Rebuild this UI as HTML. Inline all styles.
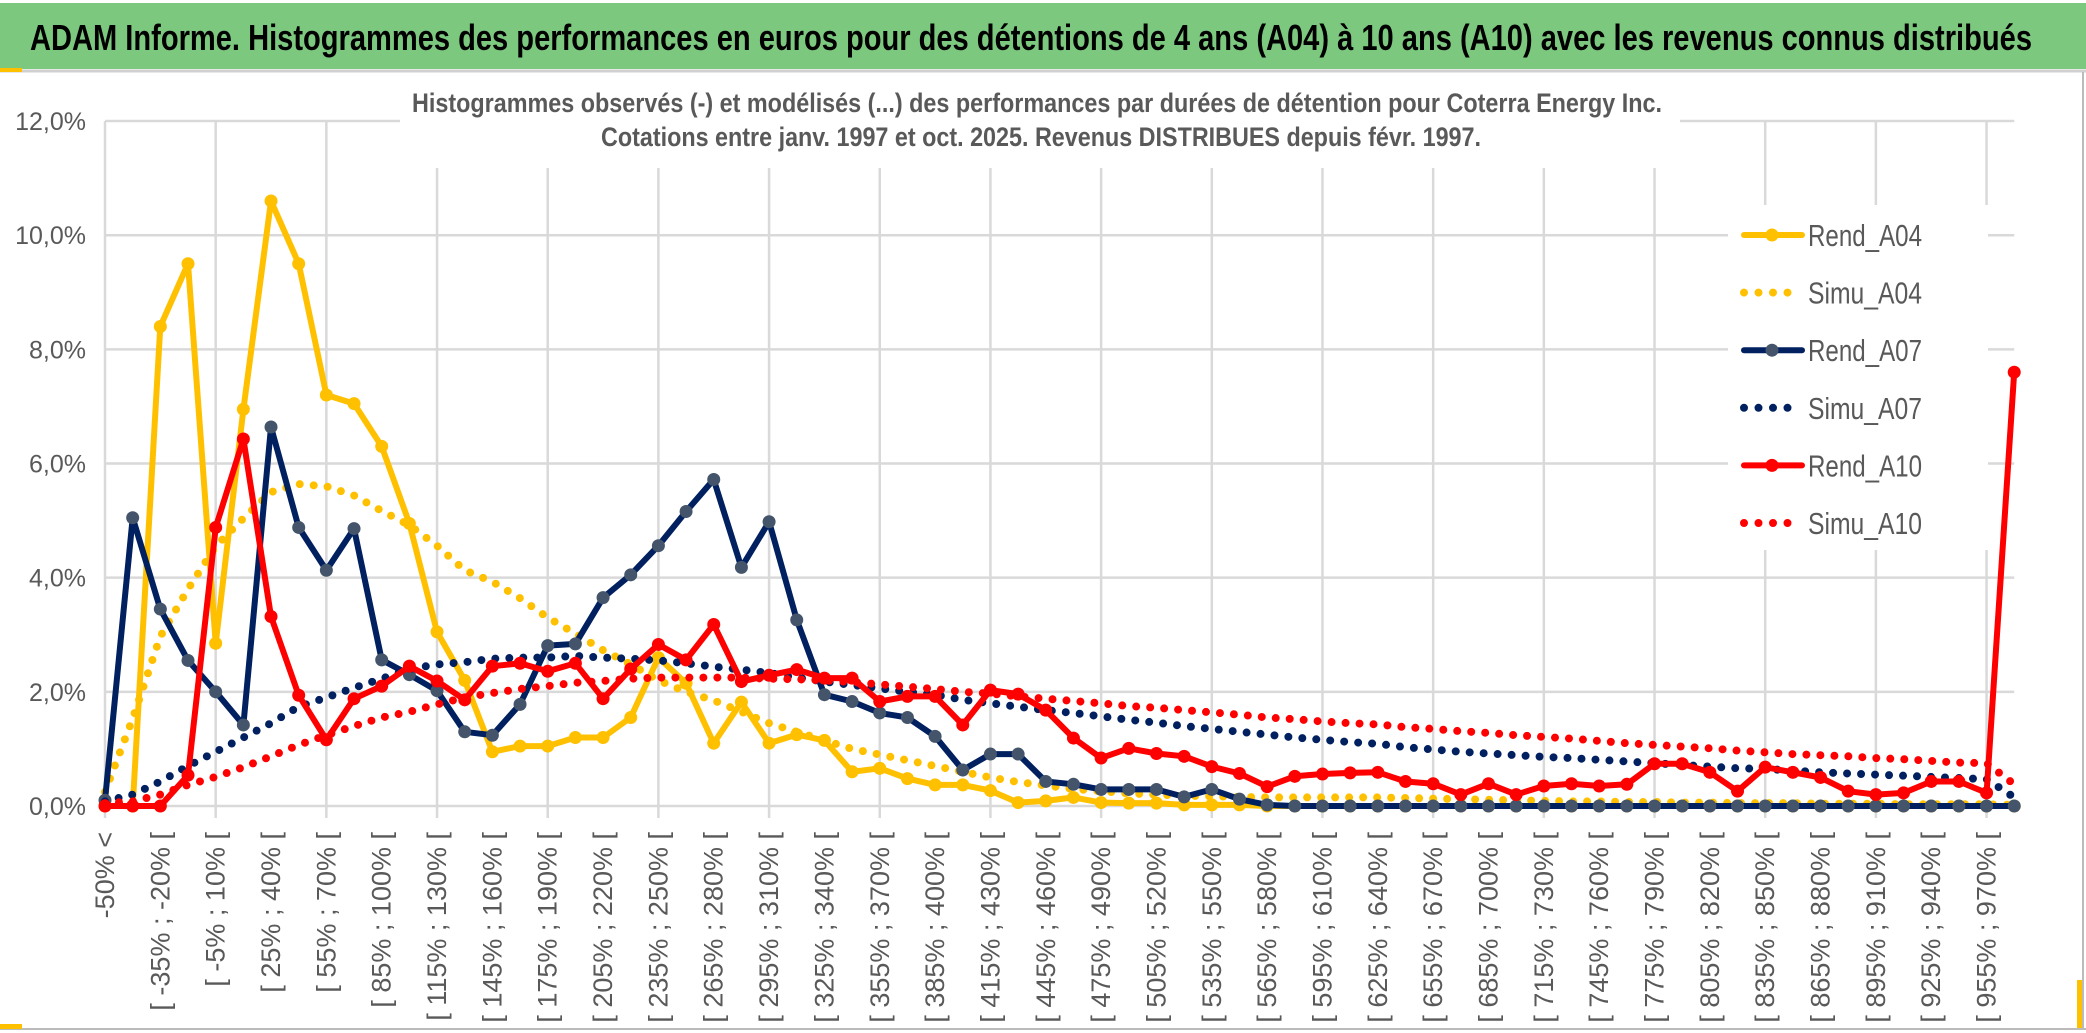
<!DOCTYPE html>
<html><head><meta charset="utf-8"><style>
html,body{margin:0;padding:0;background:#fff;}
svg{display:block;font-family:"Liberation Sans",sans-serif;}
</style></head><body>
<svg id="chart" width="2086" height="1033" viewBox="0 0 2086 1033" xmlns="http://www.w3.org/2000/svg">
<rect x="0" y="0" width="2086" height="1033" fill="#fff"/>
<rect x="0" y="3" width="2086" height="66" fill="#7dc87f"/>
<line x1="0" y1="71" x2="2086" y2="71" stroke="#d0d0d0" stroke-width="3"/>
<rect x="0" y="68" width="22" height="4" fill="#ffc000"/>
<text x="30" y="50" font-size="36" font-weight="bold" fill="#000" textLength="2002" lengthAdjust="spacingAndGlyphs">ADAM Informe. Histogrammes des performances en euros pour des détentions de 4 ans (A04) à 10 ans (A10) avec les revenus connus distribués</text>
<rect x="2082" y="72" width="2" height="958" fill="#bbb"/>
<rect x="0" y="1028" width="2086" height="2" fill="#bbb"/>
<rect x="0" y="1024" width="22" height="5" fill="#ffc000"/>
<rect x="2077" y="980" width="5" height="48" fill="#ffc000"/>
<g id="grid"></g>
<g id="yticks"></g>
<g id="xticks"></g>
<rect x="400" y="78" width="1280" height="90" fill="#fff"/>
<text x="1037" y="112" font-size="27" font-weight="bold" fill="#595959" text-anchor="middle" textLength="1250" lengthAdjust="spacingAndGlyphs">Histogrammes observés (-) et modélisés (...) des performances par durées de détention pour Coterra Energy Inc.</text>
<text x="1041" y="146" font-size="27" font-weight="bold" fill="#595959" text-anchor="middle" textLength="880" lengthAdjust="spacingAndGlyphs">Cotations entre janv. 1997 et oct. 2025. Revenus DISTRIBUES depuis févr. 1997.</text>
<g id="series"></g>
<g id="legend"></g>
</svg>
<script>
const categoryCount = 70;
const yTicks = [0, 2, 4, 6, 8, 10, 12];
const yTickLabels = ["0,0%","2,0%","4,0%","6,0%","8,0%","10,0%","12,0%"];
const rendA04 = [0,0,8.4,9.5,2.85,6.95,10.6,9.5,7.2,7.05,6.3,4.95,3.05,2.2,0.95,1.05,1.05,1.2,1.2,1.55,2.6,2.15,1.1,1.82,1.1,1.25,1.15,0.6,0.66,0.48,0.37,0.37,0.27,0.06,0.09,0.15,0.06,0.05,0.05,0.02,0.02,0.02,0,0,0,0,0,0,0,0,0,0,0,0,0,0,0,0,0,0,0,0,0,0,0,0,0,0,0,0];
const simuA04 = [0.25,1.53,2.97,3.8,4.55,5.04,5.5,5.64,5.6,5.44,5.17,4.92,4.56,4.13,3.93,3.64,3.3,3.02,2.73,2.48,2.2,2.0,1.85,1.65,1.45,1.3,1.15,1.0,0.9,0.8,0.7,0.6,0.5,0.42,0.36,0.3,0.26,0.22,0.2,0.18,0.17,0.16,0.15,0.15,0.15,0.15,0.15,0.14,0.13,0.12,0.11,0.1,0.09,0.08,0.08,0.07,0.07,0.06,0.06,0.05,0.05,0.05,0.04,0.04,0.04,0.03,0.03,0.03,0.03,0.02];
const rendA07 = [0.1,5.05,3.45,2.55,2.0,1.42,6.64,4.88,4.13,4.86,2.56,2.3,2.02,1.3,1.24,1.78,2.81,2.84,3.65,4.05,4.56,5.16,5.72,4.18,4.98,3.26,1.95,1.83,1.63,1.55,1.22,0.63,0.91,0.91,0.43,0.38,0.29,0.29,0.29,0.16,0.29,0.12,0.02,0,0,0,0,0,0,0,0,0,0,0,0,0,0,0,0,0,0,0,0,0,0,0,0,0,0,0];
const simuA07 = [0.08,0.2,0.43,0.7,0.95,1.2,1.45,1.74,1.9,2.07,2.23,2.4,2.48,2.52,2.58,2.6,2.6,2.63,2.6,2.58,2.55,2.5,2.44,2.39,2.33,2.25,2.18,2.12,2.06,2.0,1.95,1.86,1.8,1.74,1.68,1.63,1.57,1.51,1.46,1.4,1.35,1.3,1.25,1.2,1.16,1.12,1.09,1.03,0.99,0.95,0.92,0.89,0.86,0.84,0.81,0.78,0.75,0.72,0.69,0.66,0.65,0.62,0.59,0.57,0.55,0.53,0.51,0.49,0.47,0.15];
const rendA10 = [0,0,0,0.54,4.88,6.43,3.32,1.94,1.16,1.88,2.1,2.45,2.19,1.86,2.45,2.5,2.36,2.5,1.88,2.4,2.83,2.56,3.18,2.18,2.29,2.39,2.24,2.24,1.83,1.92,1.92,1.42,2.03,1.96,1.68,1.19,0.84,1.01,0.92,0.87,0.69,0.57,0.34,0.52,0.56,0.58,0.59,0.43,0.39,0.2,0.39,0.2,0.35,0.39,0.35,0.38,0.74,0.74,0.59,0.26,0.68,0.59,0.5,0.26,0.2,0.23,0.43,0.43,0.23,7.6];
const simuA10 = [0.05,0.08,0.2,0.37,0.51,0.68,0.87,1.07,1.24,1.4,1.55,1.65,1.78,1.9,1.98,2.05,2.1,2.16,2.19,2.23,2.25,2.25,2.25,2.25,2.23,2.22,2.2,2.17,2.13,2.09,2.05,2.0,1.97,1.92,1.88,1.84,1.8,1.75,1.72,1.68,1.64,1.6,1.55,1.52,1.48,1.45,1.43,1.38,1.35,1.31,1.28,1.24,1.21,1.18,1.14,1.1,1.07,1.04,1.01,0.97,0.94,0.91,0.89,0.87,0.84,0.82,0.79,0.76,0.75,0.38];
const seriesNames = ["Rend_A04","Simu_A04","Rend_A07","Simu_A07","Rend_A10","Simu_A10"];

const categories = [];
for (let k = 0; k < categoryCount; k++) {
  if (k === 0) categories.push("-50% <");
  else { const a = -50 + 15 * (k - 1); categories.push("[ " + a + "% ; " + (a + 15) + "% ["); }
}

const NS = "http://www.w3.org/2000/svg";
const X0 = 105, DX = 27.67, Y0 = 806, YPER = 57.08;
function xPos(i) { return X0 + DX * i; }
function yPos(v) { return Y0 - v * YPER; }
function mk(tag, attrs, parent) {
  const e = document.createElementNS(NS, tag);
  for (const k in attrs) e.setAttribute(k, attrs[k]);
  parent.appendChild(e); return e;
}
const grid = document.getElementById('grid');
const xEnd = xPos(categoryCount - 1);
yTicks.forEach((t, k) => {
  const l = mk('line', {x1: X0, x2: xEnd, y1: yPos(t), y2: yPos(t), stroke: '#d9d9d9', 'stroke-width': 2.5}, grid);
  
  
  const tx = mk('text', {x: 86, y: yPos(t) + 9, 'font-size': 25, fill: '#595959', 'text-anchor': 'end'}, document.getElementById('yticks'));
  
  
  tx.textContent = yTickLabels[k];
});
for (let i = 0; i < categoryCount; i += 4) {
  const l = mk('line', {x1: xPos(i), x2: xPos(i), y1: yPos(12), y2: Y0 + 12, stroke: '#d9d9d9', 'stroke-width': 2.5}, grid);
  
  
}
const xt = document.getElementById('xticks');
for (let i = 0; i < categoryCount; i += 2) {
  const x = xPos(i) + 9, y = 832;
  const t = mk('text', {x: x, y: y, 'font-size': 27, fill: '#595959', 'text-anchor': 'end', transform: 'rotate(-90 ' + x + ' ' + y + ')'}, xt);
  
  
  t.textContent = categories[i];
}
const series = document.getElementById('series');
function pts(arr) { return arr.map((v, i) => xPos(i).toFixed(1) + ',' + yPos(v).toFixed(1)).join(' '); }
function drawRend(arr, color, mcolor, name) {
  const g = mk('g', {}, series);
  
  
  mk('polyline', {points: pts(arr), fill: 'none', stroke: color, 'stroke-width': 6, 'stroke-linejoin': 'round'}, g);
  arr.forEach((v, i) => {
    const c = mk('circle', {cx: xPos(i), cy: yPos(v), r: 6.5, fill: mcolor}, g);
    
    
  });
}
function drawSimu(arr, color, name) {
  const p = mk('polyline', {points: pts(arr), fill: 'none', stroke: color, 'stroke-width': 8, 'stroke-linecap': 'round', 'stroke-dasharray': '0 14'}, series);
  
  
}
drawRend(rendA04, '#ffc000', '#ffc000', 'rend-a04-line');
drawSimu(simuA04, '#ffc000', 'simu-a04-line');
drawRend(rendA07, '#002060', '#44546a', 'rend-a07-line');
drawSimu(simuA07, '#002060', 'simu-a07-line');
drawRend(rendA10, '#ff0000', '#ff0000', 'rend-a10-line');
drawSimu(simuA10, '#ff0000', 'simu-a10-line');

const legend = document.getElementById('legend');
mk('rect', {x: 1728, y: 205, width: 260, height: 345, fill: '#fff'}, legend);
const legColors = ['#ffc000','#ffc000','#002060','#002060','#ff0000','#ff0000'];
const legMarker = ['#ffc000', null, '#44546a', null, '#ff0000', null];
seriesNames.forEach((n, k) => {
  const y = 235 + k * 57.6;
  const g = mk('g', {}, legend);
  
  
  if (legMarker[k]) {
    mk('line', {x1: 1744, x2: 1802, y1: y, y2: y, stroke: legColors[k], 'stroke-width': 6, 'stroke-linecap': 'round'}, g);
    mk('circle', {cx: 1772, cy: y, r: 6.5, fill: legMarker[k]}, g);
  } else {
    mk('line', {x1: 1744, x2: 1800, y1: y, y2: y, stroke: legColors[k], 'stroke-width': 8, 'stroke-linecap': 'round', 'stroke-dasharray': '0 14.5'}, g);
  }
  const t = mk('text', {x: 1808, y: y + 11, 'font-size': 31, fill: '#595959', textLength: 114, lengthAdjust: 'spacingAndGlyphs'}, g);
  t.textContent = n;
});
</script>
</body></html>
